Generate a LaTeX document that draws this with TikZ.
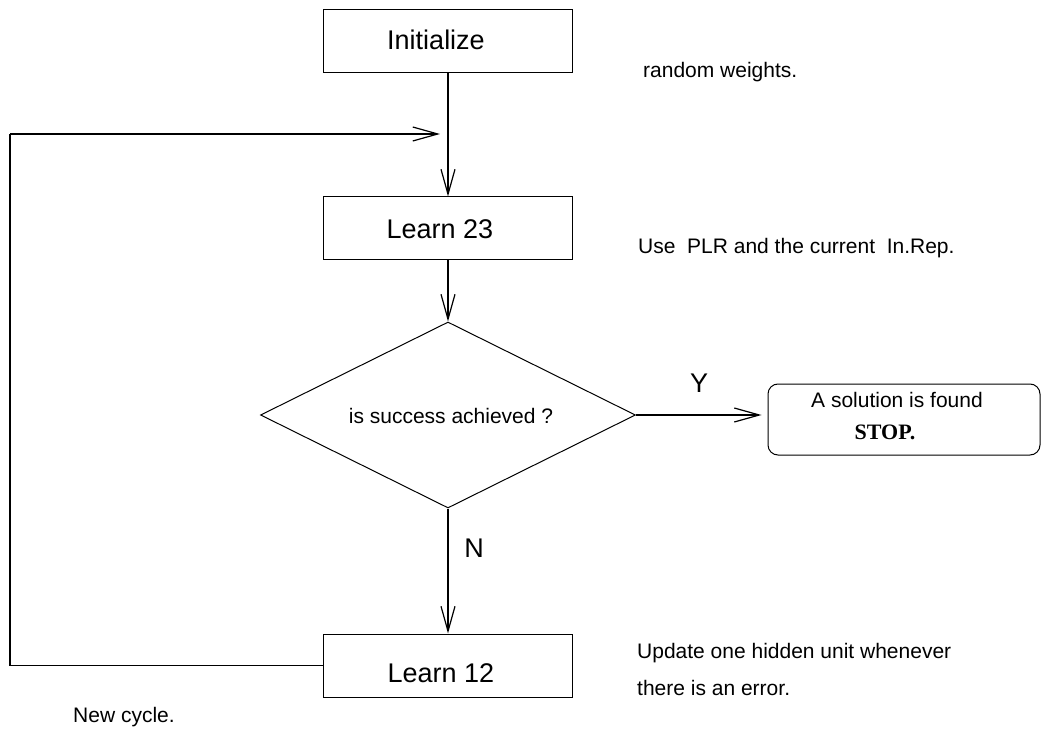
\documentclass[tikz,border=0pt]{standalone}
\usepackage{fontspec}
\setmainfont{Liberation Sans}
\newfontfamily\timesfont{Liberation Serif}
\usetikzlibrary{arrows.meta,shapes.geometric,calc}
\begin{document}
\begin{tikzpicture}[x=1pt,y=-1pt,
  boxnode/.style={draw,line width=1pt,inner sep=0pt,minimum width=249pt,minimum height=63pt},
  bigtxt/.style={font=\fontsize{27}{30}\selectfont,anchor=base,inner sep=0pt},
  smalltxt/.style={font=\fontsize{21}{24}\selectfont,inner sep=0pt},
  flow/.style={line width=1.2pt,-{Straight Barb[length=25pt,width=14pt,line width=1.2pt]}},
  plain/.style={line width=1.2pt}]
\useasboundingbox (0,0) rectangle (1045,730);
% boxes
\node[boxnode] (init) at (448,41) {};
\node[boxnode] (l23) at (448,228.5) {};
\node[draw,line width=1pt,shape=diamond,inner sep=0pt,minimum width=375pt,minimum height=186pt] (dia) at (448,415) {};
\node[boxnode] (l12) at (448,665.5) {};
\node[draw,line width=1pt,rounded corners=10pt,inner sep=0pt,minimum width=272pt,minimum height=71pt] (stop) at (904,419.5) {};
% box texts
\node[bigtxt] (tinit) at (436,50) {Initialize};
\node[bigtxt] (tl23) at (440,239) {Learn 23};
\node[bigtxt] (tl12) at (441,682) {Learn 12};
\node[smalltxt,anchor=base] (tdia) at (451,423) {is success achieved ?};
\node[smalltxt,anchor=base] (tsol) at (897,407) {A solution is found};
\node[font=\timesfont\bfseries\fontsize{22}{24}\selectfont,anchor=base,inner sep=0pt] (tstop) at (885,439) {STOP.};
% labels
\node[bigtxt] (ly) at (699,392) {Y};
\node[bigtxt] (ln) at (474,557) {N};
% comments
\node[smalltxt,anchor=base west] (c1) at (643,78) {random weights.};
\node[smalltxt,anchor=base west] (c2) at (638,254) {Use\ \ PLR and the current\ \ In.Rep.};
\node[smalltxt,anchor=base west] (c3) at (637,658) {Update one hidden unit whenever};
\node[smalltxt,anchor=base west] (c4) at (637,695) {there is an error.};
\node[smalltxt,anchor=base west] (c5) at (73,722) {New cycle.};
% connectors
\coordinate (corner1) at (10,665.5);
\coordinate (corner2) at (10,134);
\coordinate (fb) at (448,134);
\draw[flow] (init.south) -- (l23.north);
\draw[flow] (l23.south) -- (dia.north);
\draw[flow] (dia.south) -- (l12.north);
\draw[flow,shorten >=6pt] (dia.east) -- (dia.east -| stop.west);
\draw[plain] (l12.west) -- (corner1) -- (corner2);
\draw[flow,shorten >=8pt] (corner2) -- (fb);
\end{tikzpicture}
\end{document}
